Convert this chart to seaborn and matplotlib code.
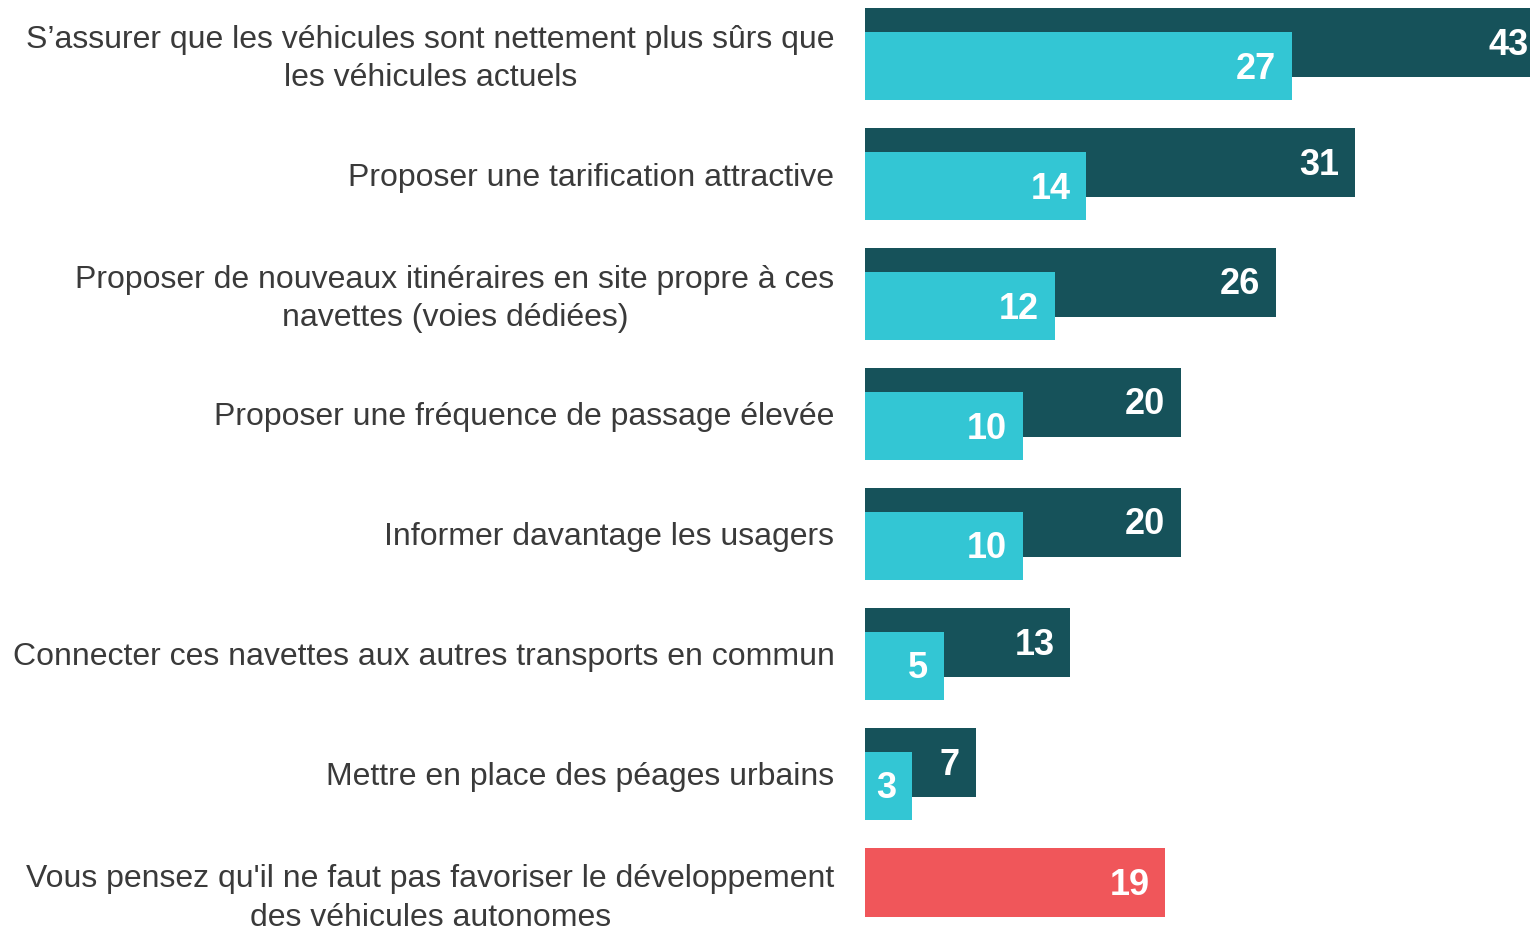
import numpy as np
import pandas as pd
import matplotlib.pyplot as plt
import matplotlib.transforms as mtrans
import seaborn as sns

# données
categories = [
    "S\u2019assurer que les véhicules sont nettement plus sûrs que\nles véhicules actuels",
    "Proposer une tarification attractive",
    "Proposer de nouveaux itinéraires en site propre à ces\nnavettes (voies dédiées)",
    "Proposer une fréquence de passage élevée",
    "Informer davantage les usagers",
    "Connecter ces navettes aux autres transports en commun",
    "Mettre en place des péages urbains",
    "Vous pensez qu'il ne faut pas favoriser le développement\ndes véhicules autonomes",
]
total = [43, 31, 26, 20, 20, 13, 7, 19]      # barre foncée (+ dernière en rouge)
premier = [27, 14, 12, 10, 10, 5, 3]         # barre claire

DARK = '#16525A'
LIGHT = '#33C6D4'
RED = '#F0565A'
TXT = '#3A3A3A'

sns.set_theme(style='white')
plt.rcParams['font.family'] = ['Liberation Sans', 'DejaVu Sans']

pos = np.arange(len(categories))
df_dark = pd.DataFrame({'pos': pos - 0.1, 'val': total})
df_light = pd.DataFrame({'pos': pos[:len(premier)] + 0.1, 'val': premier})

fig = plt.figure(figsize=(15.3, 9.27), dpi=100)
ax = fig.add_axes([865 / 1530, 0, 1 - 865 / 1530, 1])

sns.barplot(data=df_dark, x='val', y='pos', orient='y', native_scale=True,
            width=0.575, color=DARK, saturation=1, ax=ax)
n_dark = len(ax.patches)
sns.barplot(data=df_light, x='val', y='pos', orient='y', native_scale=True,
            width=0.567, color=LIGHT, saturation=1, ax=ax)

for p in ax.patches:
    p.set_linewidth(0)
ax.patches[n_dark - 1].set_facecolor(RED)

ax.set_xlim(0, 42.09)
ax.set_ylim(7.275, -0.45)

# étiquettes de valeurs
vfont = dict(color='white', fontsize=26, fontweight='bold', ha='right', va='center')
for p, v in zip(ax.patches[:n_dark], total):
    ax.text(v - 1.0, p.get_y() + p.get_height() / 2 + 0.025, str(v), clip_on=False, **vfont)
for p, v in zip(ax.patches[n_dark:], premier):
    ax.text(v - 1.0, p.get_y() + p.get_height() / 2 + 0.025, str(v), **vfont)

ax.set_yticks(pos)
ax.set_yticklabels(categories, fontsize=23, color=TXT, ha='right',
                   multialignment='center', linespacing=1.35)
ax.tick_params(axis='y', length=0, pad=22)
# remonter un peu les libellés sur deux lignes
shift = mtrans.ScaledTranslation(0, 3 / 100, fig.dpi_scale_trans)
for lab in ax.get_yticklabels():
    if '\n' in lab.get_text():
        lab.set_transform(lab.get_transform() + shift)
ax.set_xticks([])
ax.set_xlabel('')
ax.set_ylabel('')
sns.despine(ax=ax, left=True, bottom=True)

fig.savefig('out.png', dpi=100)
